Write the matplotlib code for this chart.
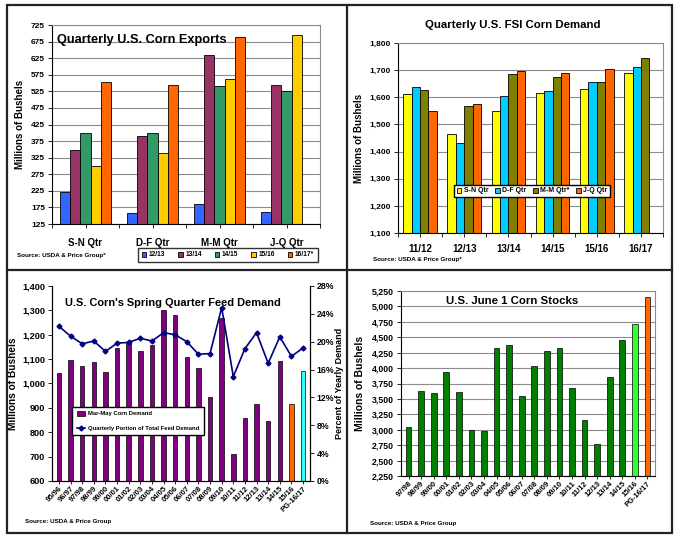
import numpy as np
import matplotlib.pyplot as plt
from matplotlib.lines import Line2D
from matplotlib.patches import Patch, Rectangle
from matplotlib.ticker import FuncFormatter

plt.rcParams['font.family'] = ['Liberation Sans', 'DejaVu Sans']
plt.rcParams['font.weight'] = 'bold'
plt.rcParams['axes.labelweight'] = 'bold'

# --- quarterly exports ---
exp_quarters = ['S-N Qtr', 'D-F Qtr', 'M-M Qtr', 'J-Q Qtr']
exp_years = ['12/13', '13/14', '14/15', '15/16', '16/17*']
exp_1213 = [220, 158, 185, 160]
exp_1314 = [348, 390, 635, 545]
exp_1415 = [400, 398, 542, 527]
exp_1516 = [300, 340, 562, 695]
exp_1617 = [553, 545, 690, np.nan]

# --- quarterly FSI demand ---
fsi_years = ['11/12', '12/13', '13/14', '14/15', '15/16', '16/17']
fsi_names = ['S-N Qtr', 'D-F Qtr', 'M-M Qtr*', 'J-Q Qtr']
fsi_sn = [1612, 1466, 1551, 1617, 1632, 1691]
fsi_df = [1637, 1430, 1603, 1622, 1655, 1713]
fsi_mm = [1626, 1568, 1685, 1676, 1658, 1744]
fsi_jq = [1550, 1576, 1697, 1691, 1704, np.nan]

# --- spring quarter feed demand ---
feed_years = ['95/96', '96/97', '97/98', '98/99', '99/00', '00/01', '01/02', '02/03',
              '03/04', '04/05', '05/06', '06/07', '07/08', '08/09', '09/10', '10/11',
              '11/12', '12/13', '13/14', '14/15', '15/16', 'PG-16/17']
feed_mar_may = [1043, 1095, 1072, 1090, 1047, 1147, 1170, 1135, 1158, 1300, 1280,
                1108, 1063, 943, 1268, 710, 857, 917, 847, 1092, 915, 1052]
feed_pct = [22.2, 20.8, 19.7, 20.1, 18.6, 19.8, 19.9, 20.5, 20.1, 21.3, 21.0,
            20.0, 18.2, 18.3, 24.9, 15.0, 19.0, 21.3, 16.9, 20.7, 17.9, 19.1]

# --- June 1 stocks ---
stock_years = ['97/98', '98/99', '99/00', '00/01', '01/02', '02/03', '03/04', '04/05',
               '05/06', '06/07', '07/08', '08/09', '09/10', '10/11', '11/12', '12/13',
               '13/14', '14/15', '15/16', 'PG-16/17']
stock_june1 = [3050, 3630, 3600, 3930, 3610, 3000, 2980, 4330, 4370, 3540, 4040,
               4270, 4320, 3680, 3160, 2770, 3860, 4460, 4710, 5150]

W, H = 679, 543
fig = plt.figure(figsize=(W / 100, H / 100), dpi=100)


def px_axes(x0, y0, x1, y1):
    return fig.add_axes([x0 / W, 1 - y1 / H, (x1 - x0) / W, (y1 - y0) / H])


def fx(x):
    return x / W


def fy(y):
    return 1 - y / H


comma = FuncFormatter(lambda v, p: f'{v:,.0f}')
grid_c = '#8c8c8c'


def style(ax, grid=True, ysize=6):
    ax.tick_params(axis='y', labelsize=ysize, length=3, width=0.6, pad=2)
    ax.tick_params(axis='x', length=3, width=0.6)
    for s in ['left', 'bottom']:
        ax.spines[s].set_color('black')
        ax.spines[s].set_linewidth(0.8)
    for s in ['top', 'right']:
        ax.spines[s].set_color(grid_c)
        ax.spines[s].set_linewidth(0.8)
    if grid:
        ax.yaxis.grid(True, color=grid_c, linewidth=0.8)
        ax.set_axisbelow(True)


# panel 1: exports
ax1 = px_axes(52, 25, 320, 224)
cols1 = ['#3366FF', '#993366', '#339966', '#FFCC00', '#FF6600']
x = np.arange(len(exp_quarters))
bw = 0.155
for i, (vals, c, lab) in enumerate(zip([exp_1213, exp_1314, exp_1415, exp_1516, exp_1617],
                                        cols1, exp_years)):
    ax1.bar(x + (i - 2) * bw, vals, bw, color=c, edgecolor='black', linewidth=0.6,
            label=lab)
ax1.set_ylim(125, 725)
ax1.set_yticks(np.arange(125, 726, 50))
ax1.set_xlim(-0.5, 3.5)
ax1.set_xticks(x)
ax1.set_xticklabels(exp_quarters, fontsize=7)
ax1.set_xticks(np.arange(-0.5, 3.6, 1), minor=True)
ax1.tick_params(axis='x', which='major', length=0, pad=7)
ax1.tick_params(axis='x', which='minor', length=3, width=0.6)
style(ax1)
ax1.set_ylabel('Millions of Bushels', fontsize=7, labelpad=4)
ax1.text(0.02, 0.955, 'Quarterly U.S. Corn Exports', transform=ax1.transAxes,
         fontsize=9.2, va='top', ha='left')
h1, l1 = ax1.get_legend_handles_labels()
fig.legend(h1, l1, loc='center', bbox_to_anchor=(fx(228), fy(255)), ncol=5,
           fontsize=4.8, handlelength=0.7, handleheight=0.7, handletextpad=0.4,
           columnspacing=1.9, frameon=True, fancybox=False, edgecolor='black',
           borderpad=0.5)
fig.text(fx(17), fy(256), 'Source: USDA & Price Group*', fontsize=4.5, va='center')

# panel 2: FSI
ax2 = px_axes(398, 43, 663, 233)
cols2 = ['#FFFF00', '#00CCFF', '#808000', '#FF6600']
x = np.arange(len(fsi_years))
bw = 0.19
for i, (vals, c, lab) in enumerate(zip([fsi_sn, fsi_df, fsi_mm, fsi_jq], cols2, fsi_names)):
    ax2.bar(x + (i - 1.5) * bw, vals, bw, color=c, edgecolor='black', linewidth=0.6,
            label=lab)
ax2.set_ylim(1100, 1800)
ax2.set_yticks(np.arange(1100, 1801, 100))
ax2.yaxis.set_major_formatter(comma)
ax2.set_xlim(-0.5, 5.5)
ax2.set_xticks(x)
ax2.set_xticklabels(fsi_years, fontsize=7)
ax2.set_xticks(np.arange(-0.5, 5.6, 1), minor=True)
ax2.tick_params(axis='x', which='major', length=0, pad=5)
ax2.tick_params(axis='x', which='minor', length=3, width=0.6)
style(ax2)
ax2.set_ylabel('Millions of Bushels', fontsize=7, labelpad=4)
fig.text(fx(513), fy(25), 'Quarterly U.S. FSI Corn Demand', fontsize=8.2,
         ha='center', va='center')
h2, l2 = ax2.get_legend_handles_labels()
fig.legend(h2, l2, loc='center', bbox_to_anchor=(fx(532), fy(191)), ncol=4,
           fontsize=5, handlelength=0.7, handleheight=0.7, handletextpad=0.3,
           columnspacing=1.0, frameon=True, fancybox=False, edgecolor='black',
           borderpad=0.4, framealpha=1)
fig.text(fx(373), fy(259), 'Source: USDA & Price Group*', fontsize=4.5, va='center')

# panel 3: spring feed demand
ax3 = px_axes(52, 286, 310, 481)
x = np.arange(len(feed_years))
cols3 = ['#800080'] * (len(feed_years) - 2) + ['#FF6600', '#33FFFF']
ax3.bar(x, feed_mar_may, 0.38, color=cols3, edgecolor='black', linewidth=0.5)
ax3.set_ylim(600, 1400)
ax3.set_yticks(np.arange(600, 1401, 100))
ax3.yaxis.set_major_formatter(comma)
ax3.set_xlim(-0.6, len(feed_years) - 0.4)
ax3.set_xticks(x)
ax3.set_xticklabels(feed_years, fontsize=5.5, rotation=45, ha='right',
                    rotation_mode='anchor')
style(ax3, grid=False, ysize=6.6)
ax3.spines['top'].set_visible(False)
ax3.spines['right'].set_color('black')
ax3.tick_params(axis='x', length=2, pad=1)
ax3.set_ylabel('Millions of Bushels', fontsize=7.3, labelpad=3)
ax3b = ax3.twinx()
ax3b.plot(x, feed_pct, color='#000080', marker='D', markersize=2.5, linewidth=1.2)
ax3b.set_ylim(0, 28)
ax3b.set_yticks(np.arange(0, 29, 4))
ax3b.yaxis.set_major_formatter(FuncFormatter(lambda v, p: f'{v:.0f}%'))
ax3b.tick_params(axis='y', labelsize=6.3, length=3, width=0.6, pad=2)
ax3b.spines['top'].set_visible(False)
ax3.text(0.05, 0.94, "U.S. Corn's Spring Quarter Feed Demand", transform=ax3.transAxes,
         fontsize=7.9, va='top', ha='left')
fig.text(fx(340), fy(383), 'Percent of Yearly Demand', fontsize=6.5, rotation=90,
         ha='center', va='center')
h3 = [Patch(facecolor='#800080', edgecolor='black', linewidth=0.5),
      Line2D([], [], color='#000080', marker='D', markersize=2.5, linewidth=1.2)]
ax3.legend(h3, ['Mar-May Corn Demand', 'Quarterly Portion of Total Feed Demand'],
           loc='center', bbox_to_anchor=((138 - 52) / 258, 1 - (421 - 286) / 195),
           fontsize=4.2, handlelength=1.5, handleheight=0.9, handletextpad=0.5,
           frameon=True, fancybox=False, edgecolor='black', borderpad=0.7,
           labelspacing=1.6, framealpha=1)
fig.text(fx(25), fy(522), 'Source: USDA & Price Group', fontsize=4.5, va='center')

# panel 4: June 1 stocks
ax4 = px_axes(401, 291, 655, 476)
x = np.arange(len(stock_years))
cols4 = ['#008000'] * (len(stock_years) - 2) + ['#33FF33', '#FF6600']
ax4.bar(x, stock_june1, 0.45, color=cols4, edgecolor='black', linewidth=0.5)
ax4.set_ylim(2250, 5250)
ax4.set_yticks(np.arange(2250, 5251, 250))
ax4.yaxis.set_major_formatter(comma)
ax4.set_xlim(-0.6, len(stock_years) - 0.4)
ax4.set_xticks(x)
ax4.set_xticklabels(stock_years, fontsize=5.5, rotation=45, ha='right',
                    rotation_mode='anchor')
style(ax4, ysize=6.3)
ax4.tick_params(axis='x', length=2, pad=1)
ax4.set_ylabel('Millions of Bushels', fontsize=7.5, labelpad=5)
fig.text(fx(512), fy(301), 'U.S. June 1 Corn Stocks', fontsize=8.2,
         ha='center', va='center')
fig.text(fx(370), fy(523), 'Source: USDA & Price Group', fontsize=4.5, va='center')

# quadrant frame
frame_kw = dict(color='#222222', linewidth=1.6)
fig.add_artist(Rectangle((fx(7), fy(533)), fx(672) - fx(7), fy(5) - fy(533),
                         transform=fig.transFigure, fill=False, edgecolor='#222222',
                         linewidth=1.6))
fig.add_artist(Line2D([fx(347), fx(347)], [fy(5), fy(533)], **frame_kw))
fig.add_artist(Line2D([fx(7), fx(672)], [fy(270), fy(270)], **frame_kw))

fig.savefig('out.png', dpi=100)
